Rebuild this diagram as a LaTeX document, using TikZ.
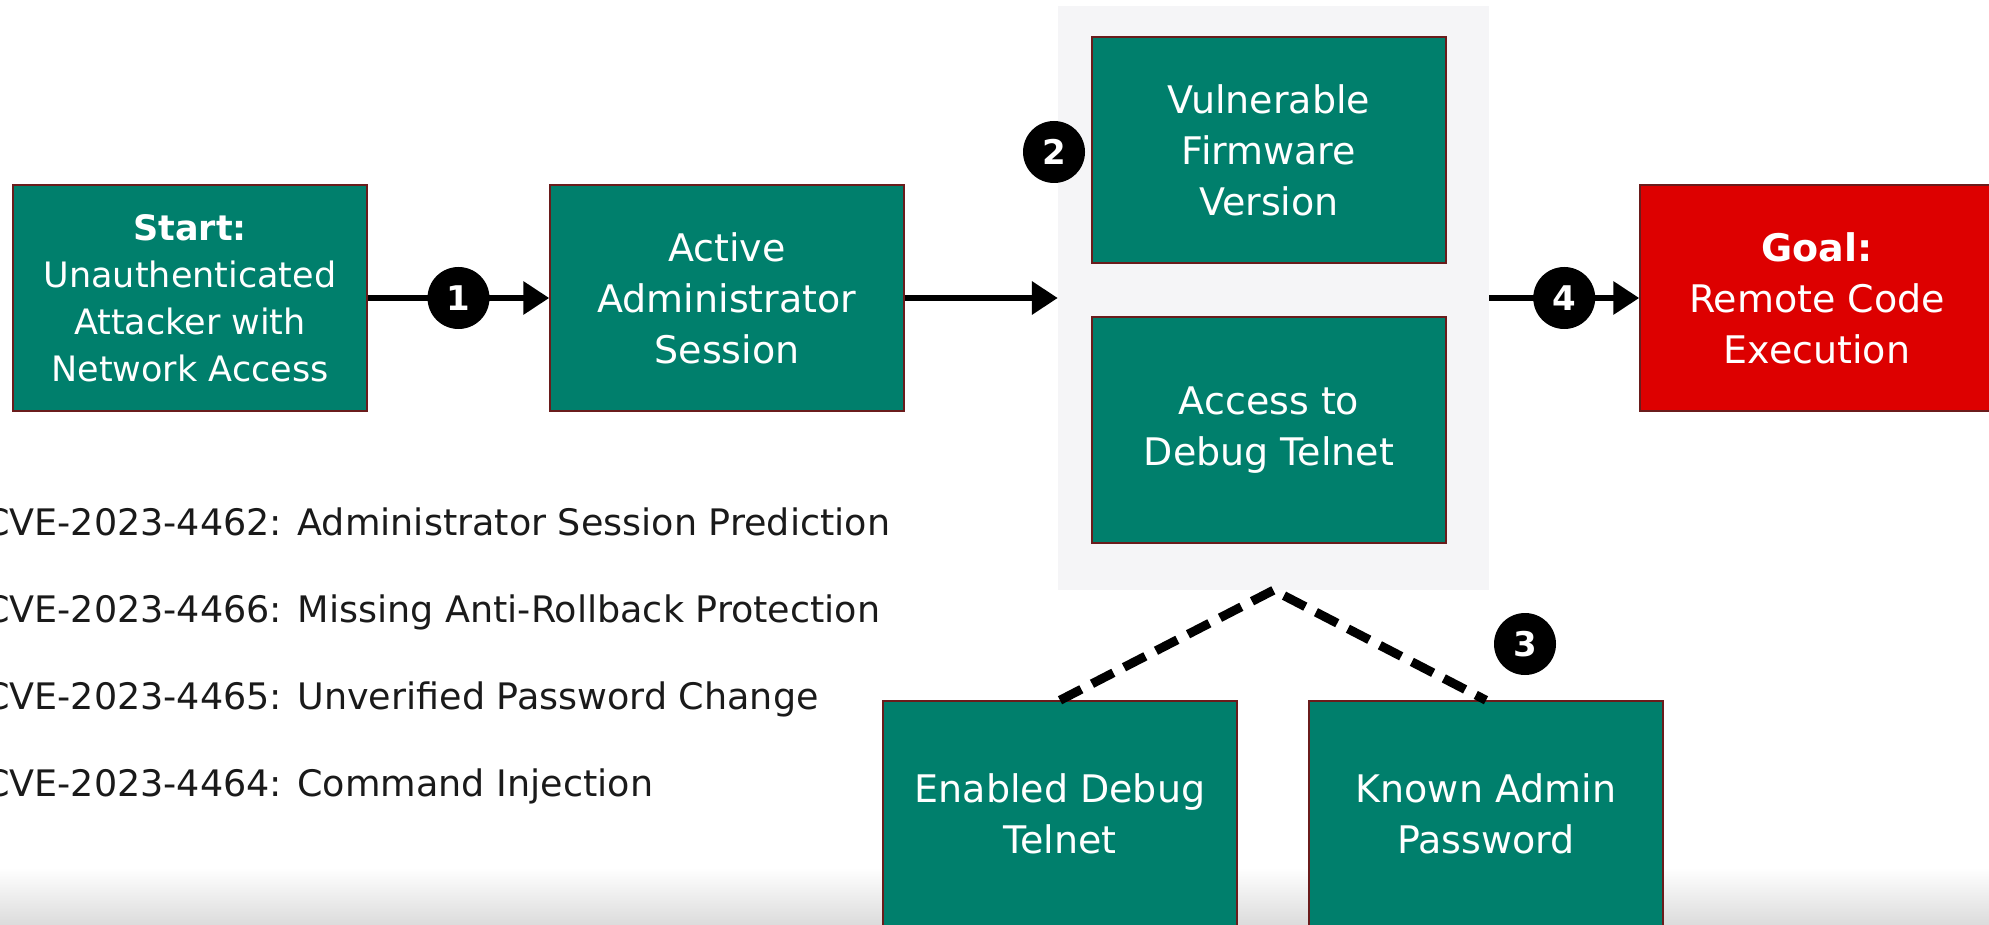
\documentclass[tikz,border=0pt]{standalone}
\usepackage{fontspec}
\setmainfont{DejaVu Sans}
\usetikzlibrary{arrows.meta}
\definecolor{boxgreen}{HTML}{007F6C}
\definecolor{goalred}{HTML}{DD0000}
\definecolor{boxedge}{HTML}{6A1C1C}
\definecolor{panelgray}{HTML}{F5F5F7}
\definecolor{cvetext}{HTML}{1A1A1A}
\begin{document}
\begin{tikzpicture}[x=1pt,y=-1pt,
  box/.style={draw=boxedge, line width=1.5pt, fill=boxgreen, text=white,
    minimum width=354pt, minimum height=226pt, align=center, inner sep=0pt,
    font=\fontsize{38}{51}\selectfont},
  startbox/.style={box, font=\fontsize{35}{47}\selectfont},
  goalbox/.style={box, fill=goalred},
  numdot/.style={circle, fill=black, text=white, minimum size=62pt, inner sep=0pt,
    font=\bfseries\fontsize{34}{34}\selectfont},
  flow/.style={line width=6.5pt, -{Triangle[length=26pt,width=32pt]}},
  orlink/.style={line width=9pt, dash pattern=on 24pt off 12pt, line join=round},
  cve/.style={anchor=base west, inner sep=0pt, text=cvetext, font=\fontsize{36.5}{40}\selectfont}
]
\useasboundingbox (0,0) rectangle (1989,925);
\clip (0,0) rectangle (1989,925);
\fill[white] (0,0) rectangle (1989,925);
\shade[top color=white, bottom color=black!14] (0,868) rectangle (1989,925);

% panel behind the middle boxes
\node[fill=panelgray, minimum width=431pt, minimum height=584pt, inner sep=0pt] (panel) at (1273.5,298) {};

% boxes
\node[startbox] (start) at (190,298) {{\bfseries Start:}\\Unauthenticated\\Attacker with\\Network Access};
\node[box] (active) at (727,298) {Active\\Administrator\\Session};
\node[box] (vuln) at (1269,150) {Vulnerable\\Firmware\\Version};
\node[box] (access) at (1269,430) {Access to\\Debug Telnet};
\node[goalbox] (goal) at (1817,298) {{\bfseries Goal:}\\Remote Code\\Execution};
\node[box] (enabled) at (1060,814) {Enabled Debug\\Telnet};
\node[box] (known) at (1486,814) {Known Admin\\Password};

% connectors
\draw[flow] (start.east) -- node[numdot] (n1) {1} (active.west);
\draw[flow] (active.east) -- (panel.west);
\draw[flow] (panel.east) -- node[numdot] (n4) {4} (goal.west);
\draw[orlink] (enabled.north) -- (panel.south) -- (known.north);

\node[numdot] (n2) at (1054,152) {2};
\node[numdot] (n3) at (1525,644) {3};

% CVE list
\node[cve] (c1) at (-16,535) {CVE-2023-4462: Administrator Session Prediction};
\node[cve] (c2) at (-16,622) {CVE-2023-4466: Missing Anti-Rollback Protection};
\node[cve] (c3) at (-16,709) {CVE-2023-4465: Unverified Password Change};
\node[cve] (c4) at (-16,796) {CVE-2023-4464: Command Injection};
\end{tikzpicture}
\end{document}
